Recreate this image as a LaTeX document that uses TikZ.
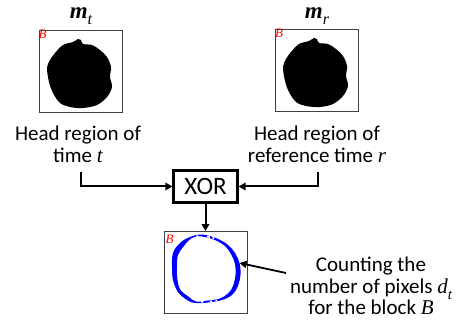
\documentclass[tikz,border=0pt]{standalone}
\usepackage{fontspec}
\setmainfont{Carlito}
\newfontfamily\varfont{Liberation Serif}
\usetikzlibrary{arrows.meta}
% italic variable names, with an optional lowered subscript
\newcommand{\varname}[1]{{\varfont\itshape #1}}
\newcommand{\varsub}[2]{{\varfont\itshape #1\raisebox{-0.28em}{\fontsize{0.7em}{0.7em}\selectfont #2}}}
\newcommand{\boldvarsub}[2]{{\varfont\bfseries\itshape #1\raisebox{-0.28em}{\mdseries\fontsize{0.7em}{0.7em}\selectfont #2}}}
\begin{document}
\begin{tikzpicture}[x=1pt,y=-1pt,
  txt/.style={align=center,inner sep=0pt,font=\fontsize{21}{21.5}\selectfont},
  lbl/.style={inner sep=0pt,font=\fontsize{23}{23}\selectfont},
  imgbox/.style={draw=black!75,line width=0.9pt,minimum width=83pt,minimum height=82pt,inner sep=0pt},
  blocklbl/.style={text=red,inner sep=0pt,font=\fontsize{13}{13}\selectfont},
  xorbox/.style={draw=black,line width=2.2pt,minimum width=64pt,minimum height=32pt,inner sep=0pt,font=\fontsize{25}{25}\selectfont},
  flow/.style={line width=2pt,-{Triangle[length=7pt,width=7.5pt]}},
  pointer/.style={line width=1.8pt,-{Triangle[length=7pt,width=7pt]}}
]
\useasboundingbox (0,0) rectangle (464,320);

% head mask at time t
\node[imgbox] (bt) at (80.5,71) {};
\node[lbl] (mt) at (81,16) {\boldvarsub{m}{t}};
\node[blocklbl] at (42.5,34.5) {\varname{B}};
\fill[black] plot[smooth cycle,tension=0.55] coordinates {
  (73,42) (78,39) (81,40) (83,44) (92,45) (100,50) (107,57) (111,67)
  (110,77) (112,87) (107,97) (97,105) (83,108) (70,107) (60,103)
  (53,93) (49,82) (47,68) (50,60) (55,53) (63,45)};

% head mask at reference time r
\node[imgbox] (br) at (316.5,70) {};
\node[lbl] (mr) at (317,16) {\boldvarsub{m}{r}};
\node[blocklbl] at (279,33.5) {\varname{B}};
\begin{scope}[shift={(236,-1)}]
\fill[black] plot[smooth cycle,tension=0.55] coordinates {
  (73,42) (78,39) (81,40) (83,44) (92,45) (100,50) (107,57) (111,67)
  (110,77) (112,87) (107,97) (97,105) (84,108) (70,107) (60,103)
  (53,93) (49,82) (47,68) (50,60) (55,53) (63,45)};
\end{scope}

% captions
\node[txt] (lt) at (78,144.5) {Head region of\\time \varname{t}};
\node[txt] (rt) at (317,144.5) {Head region of\\reference time \varname{r}};

% XOR and the difference block
\node[xorbox] (xor) at (205.5,186.5) {XOR};
\node[imgbox] (res) at (205.5,272.5) {};
\node[blocklbl] at (169.5,239) {\varname{B}};

% blue ring of differing pixels
\fill[blue,even odd rule]
  plot[smooth cycle,tension=0.6] coordinates {
    (190,237) (202,234.5) (217,238.5) (228,245) (235,253) (239.5,263)
    (240.5,275) (237.5,287) (232,295) (222,300) (208,302.5) (195,303)
    (187,300) (178,292) (173,280) (172,267) (173,253) (180,243)}
  plot[smooth cycle,tension=0.6] coordinates {
    (191,238.5) (202,236.5) (216,240.5) (226,247) (231.5,255) (235,264)
    (235.5,275) (233,286) (228.5,293) (220,298.5) (208,300.5) (196,301.5)
    (189,297) (180.5,290) (177.5,280) (177,267) (178,255) (184,246)};
\draw[white,line width=1.6pt] (196,236.5) -- (198.5,236.2);
\draw[white,line width=1.6pt] (207,236.5) -- (210,237.2);
\draw[white,line width=1.6pt] (212.5,237.8) -- (214,238.3);
\draw[white,line width=1.6pt] (201,301.8) -- (203.5,301.6);
\draw[white,line width=1.6pt] (210,301.4) -- (212,301.2);
\draw[white,line width=1.6pt] (215.5,300.7) -- (217,300.3);

\node[txt] (ct) at (371,286) {Counting the\\number of pixels \varsub{d}{t}\\for the block \varname{B}};

% connectors
\coordinate (ls) at (81,172);
\coordinate (rs) at (318,172);
\coordinate (cs) at (286,273);
\coordinate (ringpt) at (239.5,263);
\draw[flow] (ls) |- (xor.west);
\draw[flow] (rs) |- (xor.east);
\draw[flow] (xor.south) -- (res.north);
\draw[pointer] (cs) -- (ringpt);
\end{tikzpicture}
\end{document}
